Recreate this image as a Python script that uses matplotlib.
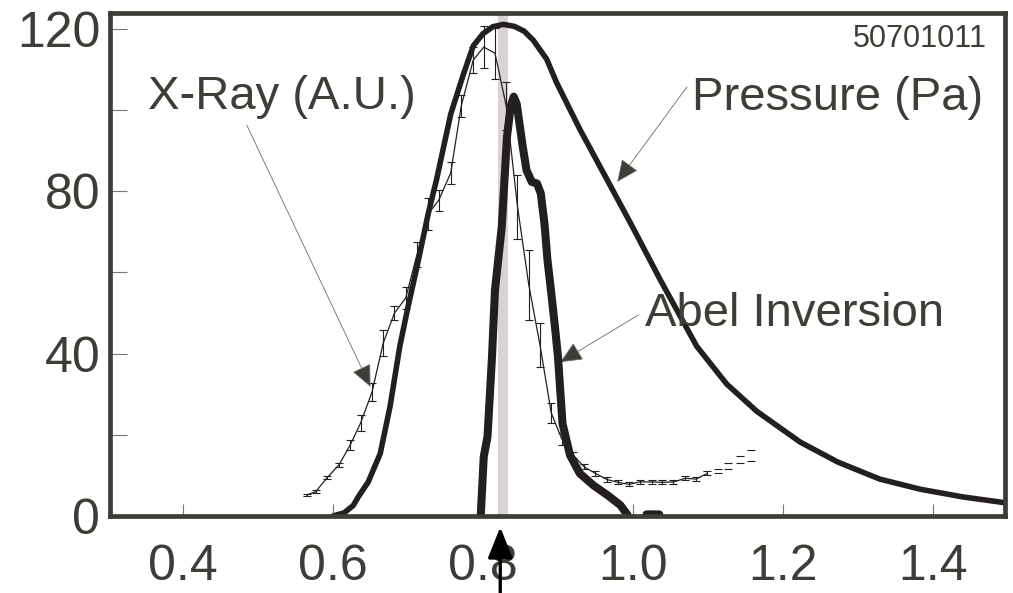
import matplotlib
matplotlib.use("Agg")
import matplotlib.pyplot as plt
from matplotlib import font_manager
import numpy as np

# pick a condensed sans if available
def pick_font(names):
    for n in names:
        try:
            font_manager.findfont(n, fallback_to_default=False)
            return n
        except Exception:
            pass
    return "DejaVu Sans"

FONT = pick_font(["Liberation Sans Narrow", "Liberation Sans", "Arial"])
NARROW = FONT == "Liberation Sans Narrow"
plt.rcParams["font.family"] = [FONT, "DejaVu Sans"]
big = 41 if NARROW else 34
small = 26 if NARROW else 22

# pressure profile (Pa)
p_x = [0.600, 0.615, 0.627, 0.634, 0.647, 0.663, 0.676, 0.689, 0.700, 0.712,
       0.727, 0.738, 0.757, 0.773, 0.787, 0.800, 0.813, 0.827, 0.842, 0.855,
       0.867, 0.885, 0.898, 0.929, 0.965, 1.000, 1.036, 1.085, 1.125, 1.165,
       1.223, 1.273, 1.329, 1.383, 1.440, 1.495]
p_y = [0.0, 0.8, 2.6, 4.8, 8.4, 15.4, 26.9, 41.7, 51.5, 61.4,
       74.5, 82.8, 99.0, 108.3, 115.8, 118.8, 120.5, 121.1, 120.6, 119.4,
       117.2, 112.5, 106.8, 95.3, 83.0, 71.0, 58.3, 41.8, 32.5, 25.8,
       18.2, 13.3, 9.1, 6.6, 4.7, 3.3]

# x-ray signal with error bars (A.U.)
xr_x = [0.565, 0.577, 0.592, 0.608, 0.623, 0.637, 0.652, 0.667, 0.682, 0.697,
        0.712, 0.727, 0.741, 0.757, 0.771, 0.787, 0.801, 0.816, 0.831, 0.846,
        0.861, 0.876, 0.891, 0.905, 0.920, 0.935, 0.950, 0.965, 0.980, 0.995,
        1.009, 1.025, 1.039, 1.054, 1.070, 1.084, 1.099]
xr_y = [5.2, 6.0, 9.4, 12.6, 17.5, 23.0, 30.5, 42.6, 50.0, 53.7,
        64.4, 74.4, 77.8, 84.5, 101.0, 112.3, 115.5, 114.0, 101.0, 76.2,
        57.0, 42.1, 25.4, 19.0, 15.0, 12.1, 10.5, 9.0, 8.3, 7.8,
        8.4, 8.4, 8.3, 8.4, 9.3, 9.1, 10.5]
xr_err = [0.3, 0.4, 0.4, 0.5, 1.2, 2.0, 2.2, 3.3, 1.8, 2.7,
          3.1, 3.9, 2.6, 2.8, 2.7, 3.3, 5.2, 6.3, 6.0, 7.9,
          8.6, 5.4, 2.5, 1.5, 0.8, 0.6, 0.6, 0.5, 0.5, 0.5,
          0.5, 0.5, 0.5, 0.5, 0.5, 0.5, 0.5]
# outer points: caps only
xo_x = [1.113, 1.127, 1.143, 1.158]
xo_y = [11.1, 12.4, 13.9, 14.9]
xo_err = [0.6, 0.7, 0.8, 1.25]

# Abel inversion
ab_x = [0.797, 0.801, 0.806, 0.812, 0.816, 0.825, 0.832, 0.837, 0.841, 0.845,
        0.848, 0.853, 0.858, 0.865, 0.872, 0.877, 0.882, 0.886, 0.891, 0.896,
        0.900, 0.906, 0.916, 0.929, 0.947, 0.967, 0.983, 0.993, np.nan, 1.018,
        1.035]
ab_y = [0.0, 14.6, 19.5, 39.2, 55.7, 71.2, 93.4, 101.0, 103.3, 101.5,
        97.5, 91.0, 85.2, 82.3, 81.9, 79.5, 72.0, 63.0, 55.0, 46.5,
        39.2, 22.8, 15.0, 10.5, 7.6, 5.0, 2.7, 0.2, np.nan, 0.4,
        0.4]

band = (0.820, 0.833)
probe_x = 0.823

ink = "#231f20"
grey = "#3c3d36"

fig = plt.figure(figsize=(10.13, 5.93), dpi=100)
ax = fig.add_axes([0.1086, 0.1298, 0.8835, 0.8483])

ax.axvspan(*band, color="#d8d3d0", lw=0, zorder=1)

ax.errorbar(xr_x, xr_y, yerr=xr_err, fmt="-", color=ink, lw=0.9,
            elinewidth=0.8, capsize=2.6, capthick=0.8, zorder=3)
ax.errorbar(xo_x, xo_y, yerr=xo_err, fmt="none", ecolor=ink,
            elinewidth=0, capsize=3, capthick=0.8, zorder=3)

ax.plot(p_x, p_y, color=ink, lw=4.0, solid_capstyle="round",
        solid_joinstyle="round", zorder=4)
ax.plot(ab_x, ab_y, color=ink, lw=5.8, solid_capstyle="round",
        solid_joinstyle="round", zorder=5)

ax.set_xlim(0.3027, 1.496)
ax.set_ylim(0, 123.9)

ax.set_xticks([0.4, 0.6, 0.8, 1.0, 1.2, 1.4])
ax.set_xticklabels(["0.4", "0.6", "0.8", "1.0", "1.2", "1.4"])
ax.set_yticks([0, 20, 40, 60, 80, 100, 120])
ax.set_yticklabels(["0", "", "40", "", "80", "", "120"])
ax.tick_params(axis="x", direction="in", length=9, width=0.8, color="#77776f",
               labelsize=36, labelcolor=grey, pad=20)
ax.tick_params(axis="y", direction="in", length=12, width=0.8, color="#77776f",
               labelsize=36, labelcolor=grey, pad=7)

for s in ax.spines.values():
    s.set_color(grey)
    s.set_linewidth(3.4)
    s.set_zorder(6)

# labels with pointer arrows
arrow_kw = dict(arrowstyle="-|>,head_length=1.0,head_width=0.45",
                color="#6b6c64", lw=0.6, mutation_scale=14,
                shrinkA=0, shrinkB=0)
tcol = "#3d3e36"
ax.annotate("", xy=(0.650, 31.8), xytext=(0.485, 96.3),
            arrowprops=dict(arrow_kw, fc=tcol, ec="#6b6c64"))
ax.annotate("", xy=(0.979, 82.3), xytext=(1.072, 105.7),
            arrowprops=dict(arrow_kw, fc=tcol, ec="#6b6c64"))
ax.annotate("", xy=(0.903, 37.9), xytext=(1.007, 49.5),
            arrowprops=dict(arrow_kw, fc=tcol, ec="#6b6c64"))

ax.text(0.353, 100.2, "X-Ray (A.U.)", fontsize=big, color=tcol,
        ha="left", va="baseline", zorder=7)
ax.text(1.467, 100.0, "Pressure (Pa)", fontsize=big, color=tcol,
        ha="right", va="baseline", zorder=7)
ax.text(1.016, 46.8, "Abel Inversion", fontsize=big, color=tcol,
        ha="left", va="baseline", zorder=7)
ax.text(1.472, 115.5, "50701011", fontsize=small, color=tcol,
        ha="right", va="baseline", zorder=7)

# probe position marker below the axis
ax.annotate("", xy=(probe_x, -0.022), xytext=(probe_x, -0.16),
            xycoords=("data", "axes fraction"),
            textcoords=("data", "axes fraction"),
            arrowprops=dict(arrowstyle="-|>,head_length=0.95,head_width=0.38",
                            color="black", lw=2.4, mutation_scale=20,
                            shrinkA=0, shrinkB=0),
            annotation_clip=False, zorder=8)

fig.savefig("out.png", dpi=100)
